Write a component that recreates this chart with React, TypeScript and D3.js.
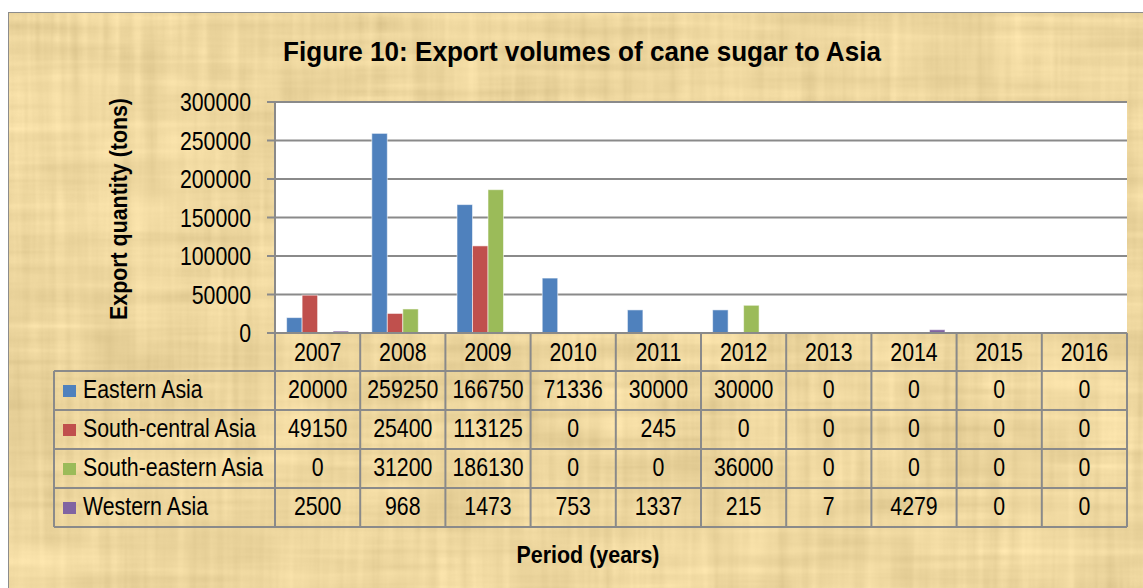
import React from 'react';
import * as d3 from 'd3';

const years = ['2007', '2008', '2009', '2010', '2011', '2012', '2013', '2014', '2015', '2016'];
const seriesNames = ['Eastern Asia', 'South-central Asia', 'South-eastern Asia', 'Western Asia'];
const easternAsia = [20000, 259250, 166750, 71336, 30000, 30000, 0, 0, 0, 0];
const southCentralAsia = [49150, 25400, 113125, 0, 245, 0, 0, 0, 0, 0];
const southEasternAsia = [0, 31200, 186130, 0, 0, 36000, 0, 0, 0, 0];
const westernAsia = [2500, 968, 1473, 753, 1337, 215, 7, 4279, 0, 0];
const yTicks = [0, 50000, 100000, 150000, 200000, 250000, 300000];
const colors = ['#4F81BD', '#C0504D', '#9BBB59', '#8064A2'];

const seriesValues = [easternAsia, southCentralAsia, southEasternAsia, westernAsia];

const W = 1143;
const H = 588;
const plotL = 275;
const plotR = 1127;
const plotT = 102;
const plotB = 333;
const rowH = 39;
const headerB = 371;
const tableL = 54;
const gridColor = '#8a8a8a';
const font = '"Liberation Sans", Arial, sans-serif';
const NARROW = 0.82;

type NTProps = {
  x: number;
  y: number;
  anchor?: 'start' | 'middle' | 'end';
  size?: number;
  children: React.ReactNode;
};

function NText({ x, y, anchor = 'start', size = 26, children }: NTProps) {
  return (
    <text
      transform={`translate(${x},${y}) scale(${NARROW},1)`}
      textAnchor={anchor}
      fontSize={size}
      fill="#000"
    >
      {children}
    </text>
  );
}

export default function App() {
  const x0 = d3.scaleBand<string>().domain(years).range([plotL, plotR]).padding(0);
  const bw = x0.bandwidth();
  const barW = bw / (seriesNames.length + 1.5);
  const gap = (bw - barW * seriesNames.length) / 2;
  const x1 = d3
    .scaleBand<number>()
    .domain(d3.range(seriesNames.length))
    .range([gap, bw - gap])
    .padding(0);
  const y = d3.scaleLinear().domain([0, 300000]).range([plotB, plotT]);

  const rowTops = seriesNames.map((_, i) => headerB + i * rowH);
  const tableB = headerB + seriesNames.length * rowH;
  const cx = (yr: string) => (x0(yr) as number) + bw / 2;

  return (
    <svg
      width={W}
      height={H}
      style={{ position: 'absolute', left: 0, top: 0, fontFamily: font }}
    >
      <defs>
        <filter id="paper" x="0" y="0" width="100%" height="100%" colorInterpolationFilters="sRGB">
          <feTurbulence type="fractalNoise" baseFrequency="0.004 0.09" numOctaves={3} seed={2} result="a" />
          <feTurbulence type="fractalNoise" baseFrequency="0.09 0.004" numOctaves={3} seed={5} result="b" />
          <feTurbulence type="fractalNoise" baseFrequency="0.012 0.012" numOctaves={3} seed={9} result="c" />
          <feComposite in="a" in2="b" operator="arithmetic" k1={0} k2={0.5} k3={0.5} k4={0} result="ab" />
          <feComposite in="ab" in2="c" operator="arithmetic" k1={0} k2={0.65} k3={0.35} k4={0} result="abc" />
          <feColorMatrix
            in="abc"
            type="matrix"
            values="0.26 0 0 0 0.8  0.26 0 0 0 0.71  0.26 0 0 0 0.49  0 0 0 0 1"
          />
        </filter>
      </defs>
      <rect x={0} y={0} width={W} height={H} fill="#ffffff" />
      <rect x={8} y={12} width={W} height={H} fill="#EDD69E" filter="url(#paper)" />
      <rect x={8.5} y={12.5} width={W + 20} height={H + 20} fill="none" stroke="#8c8c8c" strokeWidth={1} />

      {/* title */}
      <text
        x={582}
        y={61}
        textAnchor="middle"
        fontSize={28}
        fontWeight="bold"
        textLength={598}
        lengthAdjust="spacingAndGlyphs"
        fill="#000"
      >
        Figure 10: Export volumes of cane sugar to Asia
      </text>

      {/* plot area */}
      <rect x={plotL} y={plotT} width={plotR - plotL} height={plotB - plotT} fill="#ffffff" />

      {/* gridlines + ticks */}
      {yTicks.map((t) => (
        <g key={t}>
          <line x1={plotL - 8} x2={plotR} y1={y(t)} y2={y(t)} stroke={gridColor} strokeWidth={2} />
          <NText x={251} y={y(t) + 9} anchor="end">
            {t}
          </NText>
        </g>
      ))}

      {/* bars */}
      {years.map((yr, ci) => (
        <g key={yr} transform={`translate(${x0(yr)},0)`}>
          {seriesValues.map((vals, si) => {
            const v = vals[ci];
            if (v <= 0) return null;
            return (
              <rect
                key={si}
                x={x1(si)}
                y={y(v)}
                width={x1.bandwidth()}
                height={plotB - y(v)}
                fill={colors[si]}
                stroke="rgba(255,255,255,0.55)"
                strokeWidth={1}
              />
            );
          })}
        </g>
      ))}

      {/* axis line */}
      <line x1={plotL - 8} x2={plotR} y1={plotB} y2={plotB} stroke={gridColor} strokeWidth={2} />

      {/* y axis title */}
      <text
        transform={`translate(127,209) rotate(-90)`}
        textAnchor="middle"
        fontSize={24}
        fontWeight="bold"
        textLength={222}
        lengthAdjust="spacingAndGlyphs"
        fill="#000"
      >
        Export quantity (tons)
      </text>

      {/* data table lines */}
      {[headerB, ...rowTops.map((t) => t + rowH)].map((yy, i) => (
        <line key={'h' + i} x1={tableL} x2={plotR} y1={yy} y2={yy} stroke={gridColor} strokeWidth={2} />
      ))}
      <line x1={plotL} x2={plotL} y1={plotT} y2={tableB} stroke={gridColor} strokeWidth={2} />
      {years.map((yr) => (
        <line
          key={'v' + yr}
          x1={(x0(yr) as number) + bw}
          x2={(x0(yr) as number) + bw}
          y1={plotB}
          y2={tableB}
          stroke={gridColor}
          strokeWidth={2}
        />
      ))}
      <line x1={tableL} x2={tableL} y1={headerB} y2={tableB} stroke={gridColor} strokeWidth={2} />

      {/* header years */}
      {years.map((yr) => (
        <NText key={'y' + yr} x={cx(yr)} y={361} anchor="middle">
          {yr}
        </NText>
      ))}

      {/* rows */}
      {seriesNames.map((name, si) => (
        <g key={name}>
          <rect x={63} y={rowTops[si] + 14} width={13} height={12} fill={colors[si]} />
          <NText x={83} y={rowTops[si] + 27}>
            {name}
          </NText>
          {years.map((yr, ci) => (
            <NText key={yr} x={cx(yr)} y={rowTops[si] + 27} anchor="middle">
              {seriesValues[si][ci]}
            </NText>
          ))}
        </g>
      ))}

      {/* x axis title */}
      <text
        x={588}
        y={563}
        textAnchor="middle"
        fontSize={24}
        fontWeight="bold"
        textLength={143}
        lengthAdjust="spacingAndGlyphs"
        fill="#000"
      >
        Period (years)
      </text>
    </svg>
  );
}
